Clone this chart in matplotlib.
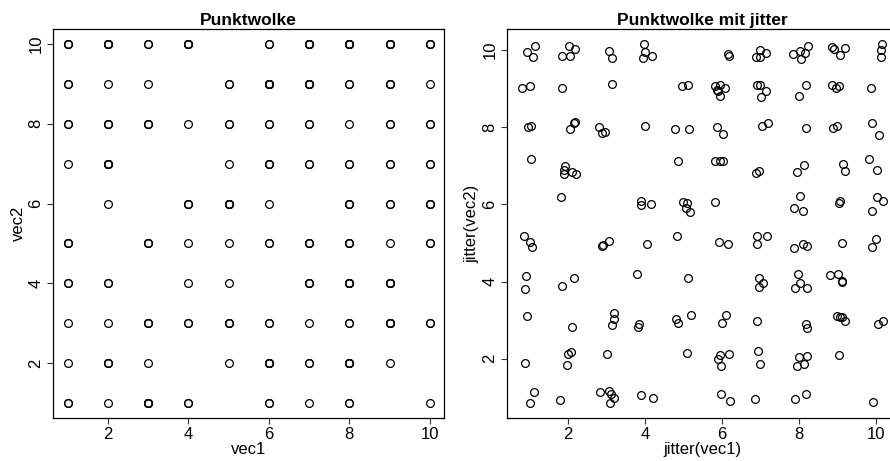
import matplotlib
matplotlib.use("Agg")
import matplotlib.pyplot as plt

plt.rcParams["font.family"] = ["Liberation Sans", "DejaVu Sans"]

# integer grid values (one entry per observation)
vec1 = [1] * 17 + [2] * 21 + [3] * 18 + [4] * 14 + [5] * 15 + \
       [6] * 24 + [7] * 22 + [8] * 28 + [9] * 23 + [10] * 16
vec2 = [
    10, 10, 10, 9, 9, 8, 8, 7, 5, 5, 5, 4, 4, 3, 2, 1, 1,
    10, 10, 10, 10, 9, 8, 8, 8, 7, 7, 7, 7, 7, 6, 4, 4, 3, 2, 2, 2, 1,
    10, 10, 9, 8, 8, 8, 5, 5, 5, 3, 3, 3, 2, 1, 1, 1, 1, 1,
    10, 10, 10, 10, 8, 6, 6, 6, 5, 4, 3, 3, 1, 1,
    9, 9, 8, 8, 7, 6, 6, 6, 6, 5, 4, 3, 3, 3, 2,
    10, 10, 9, 9, 9, 9, 9, 9, 8, 8, 7, 7, 7, 6, 5, 5, 3, 3, 2, 2, 2, 2, 1, 1,
    10, 10, 10, 10, 9, 9, 9, 9, 8, 8, 7, 7, 5, 5, 5, 4, 4, 4, 3, 2, 2, 1,
    10, 10, 10, 10, 10, 9, 9, 8, 7, 7, 6, 6, 6, 5, 5, 5, 4, 4, 4, 4, 3, 3, 2, 2, 2, 2, 1, 1,
    10, 10, 10, 10, 9, 9, 9, 8, 8, 7, 7, 6, 6, 5, 4, 4, 4, 4, 3, 3, 3, 3, 2,
    10, 10, 10, 9, 8, 8, 7, 7, 6, 6, 6, 5, 5, 3, 3, 1,
]

# the same observations after jitter()
jit1 = [
    0.93, 1.14, 1.09, 0.80, 1.01, 0.96, 1.04, 1.04, 0.86, 1.02, 1.05, 0.90, 0.88, 0.94, 0.88, 1.12, 1.01,
    2.01, 2.18, 1.85, 2.05, 1.85, 2.18, 2.14, 2.06, 1.93, 1.90, 1.88, 2.10, 2.21, 1.82, 1.84, 2.16, 2.11, 1.99, 2.08, 1.98, 1.80,
    3.06, 3.15, 3.13, 2.81, 2.88, 2.96, 2.88, 2.90, 3.06, 3.18, 3.19, 3.15, 3.02, 2.82, 3.06, 3.12, 3.19, 3.08,
    3.98, 4.00, 4.17, 3.94, 4.00, 3.90, 3.89, 4.15, 4.04, 3.80, 3.81, 3.85, 3.90, 4.19,
    4.95, 5.12, 4.78, 5.15, 4.86, 4.97, 5.09, 5.06, 5.16, 4.82, 5.12, 4.80, 4.86, 5.19, 5.08,
    6.14, 6.18, 5.82, 5.95, 6.06, 5.90, 5.95, 5.86, 5.87, 6.03, 5.82, 5.93, 6.03, 5.82, 5.92, 6.15, 6.10, 6.00, 5.93, 5.88, 6.18, 5.96, 5.97, 6.19,
    6.99, 6.88, 6.97, 7.14, 6.90, 6.99, 7.14, 7.01, 7.03, 7.18, 6.87, 6.96, 6.90, 6.90, 7.15, 6.95, 7.06, 6.96, 6.90, 6.92, 6.97, 6.84,
    7.83, 8.03, 8.05, 8.16, 8.23, 8.17, 7.99, 8.17, 7.94, 8.13, 8.03, 7.87, 8.09, 7.87, 8.09, 8.19, 7.96, 7.88, 8.02, 8.19, 8.17, 8.19, 7.98, 8.20, 7.95, 8.12, 7.88, 8.18,
    8.86, 8.91, 9.05, 9.19, 8.85, 8.95, 9.04, 8.88, 8.98, 9.14, 9.18, 9.05, 9.04, 9.10, 8.81, 9.00, 9.11, 9.12, 8.98, 9.05, 9.11, 9.18, 9.02,
    10.15, 10.12, 10.12, 9.87, 9.90, 10.07, 9.82, 10.02, 10.03, 10.17, 9.88, 10.00, 9.88, 10.04, 10.17, 9.91,
]
jit2 = [
    9.94, 10.11, 9.83, 9.01, 9.08, 8.00, 8.04, 7.17, 5.17, 5.02, 4.89, 4.14, 3.80, 3.10, 1.89, 1.14, 0.86,
    10.11, 10.03, 9.84, 9.85, 9.03, 8.15, 8.12, 7.96, 6.99, 6.90, 6.80, 6.84, 6.80, 6.18, 3.88, 4.10, 2.82, 2.11, 2.17, 1.84, 0.93,
    9.99, 9.80, 9.13, 8.00, 7.84, 7.87, 4.92, 4.94, 5.04, 3.19, 3.04, 2.87, 2.13, 1.13, 1.16, 1.09, 0.97, 0.85,
    10.16, 9.95, 9.86, 9.79, 8.03, 6.08, 5.98, 6.01, 4.97, 4.19, 2.83, 2.89, 1.07, 0.98,
    9.06, 9.09, 7.95, 7.95, 7.12, 6.06, 6.04, 5.90, 5.80, 5.18, 4.09, 3.04, 2.93, 3.13, 2.16,
    9.90, 9.85, 9.06, 9.09, 9.02, 8.93, 8.80, 8.97, 8.00, 7.82, 7.13, 7.13, 7.13, 6.06, 5.03, 4.98, 3.14, 2.93, 2.09, 1.99, 2.12, 1.81, 1.09, 0.90,
    10.00, 9.83, 9.81, 9.93, 9.09, 9.09, 8.93, 8.79, 8.03, 8.10, 6.82, 6.87, 5.18, 4.97, 5.18, 4.08, 3.96, 3.87, 2.98, 2.20, 1.86, 0.95,
    9.91, 9.98, 9.78, 9.93, 10.11, 9.09, 8.82, 7.98, 6.85, 7.03, 6.23, 5.92, 5.84, 4.86, 4.97, 4.93, 4.19, 3.83, 3.96, 3.83, 2.89, 2.80, 2.04, 2.07, 1.82, 1.87, 0.95, 1.09,
    10.08, 10.02, 9.88, 10.05, 9.09, 9.01, 9.07, 7.97, 8.04, 7.05, 6.87, 6.10, 6.03, 4.99, 4.17, 4.19, 4.02, 4.00, 3.12, 3.08, 3.08, 2.99, 2.10,
    10.17, 10.00, 9.81, 9.03, 8.12, 7.81, 7.17, 6.89, 6.18, 6.10, 5.84, 5.10, 4.89, 2.90, 2.99, 0.87,
]

ticks = [2, 4, 6, 8, 10]


def style_axes(ax, xlim, ylim, xlabel, ylabel, title):
    ax.set_xlim(*xlim)
    ax.set_ylim(*ylim)
    ax.set_xticks(ticks)
    ax.set_yticks(ticks)
    ax.tick_params(direction="out", length=4.5, width=0.8, pad=2.5,
                   labelsize=12, color="#333333")
    for lbl in ax.get_yticklabels():
        lbl.set_rotation(90)
        lbl.set_va("center")
    for sp in ax.spines.values():
        sp.set_linewidth(0.9)
    ax.set_xlabel(xlabel, fontsize=12, labelpad=0)
    ax.set_ylabel(ylabel, fontsize=12, labelpad=2)
    ax.set_title(title, fontsize=12.5, fontweight="bold", pad=3)


fig = plt.figure(figsize=(8.9, 4.61), dpi=100)
ax1 = fig.add_axes([0.0599, 0.0939, 0.4393, 0.8425])
ax2 = fig.add_axes([0.5700, 0.0939, 0.4393, 0.8425])

marker_kw = dict(marker="o", linestyle="none", markersize=5.6,
                 markerfacecolor="none", markeredgecolor="black",
                 markeredgewidth=0.9)

ax1.plot(vec1, vec2, **marker_kw)
style_axes(ax1, (0.64, 10.36), (0.64, 10.36), "vec1", "vec2", "Punktwolke")

ax2.plot(jit1, jit2, **marker_kw)
style_axes(ax2, (0.42, 10.57), (0.47, 10.54),
           "jitter(vec1)", "jitter(vec2)", "Punktwolke mit jitter")

fig.savefig("out.png", dpi=100)
